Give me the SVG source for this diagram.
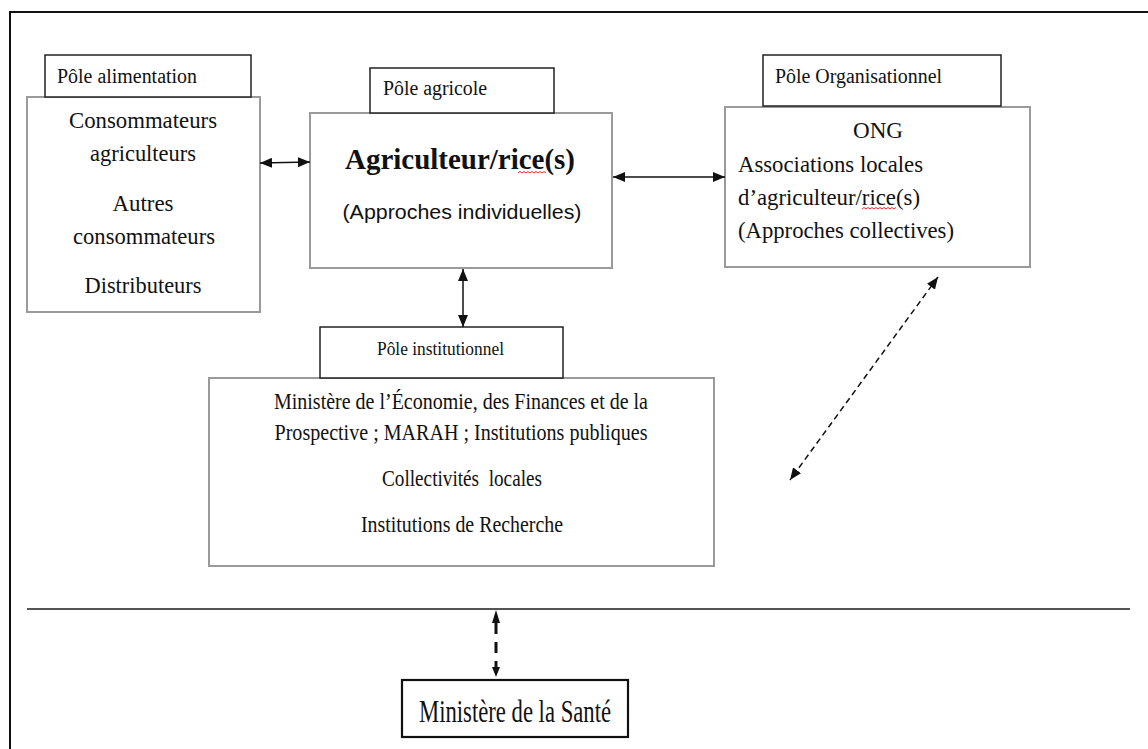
<svg xmlns="http://www.w3.org/2000/svg" width="1148" height="749" viewBox="0 0 1148 749">
<style>
.main{fill:#fff;stroke:#9a9a9a;stroke-width:2}
.lab{fill:#fff;stroke:#222;stroke-width:1.5}
.t{font-family:"Liberation Serif","Times New Roman",serif;fill:#111}
.s{font-family:"Liberation Sans",Arial,sans-serif;fill:#111}
.c{text-anchor:middle}
.conn{stroke:#111;stroke-width:1.5;fill:none}
.sq{stroke:#e03030;stroke-width:1;fill:none}
</style>
<defs>
<marker id="ah" viewBox="0 0 12 10" refX="12" refY="5" markerWidth="12" markerHeight="10" markerUnits="userSpaceOnUse" orient="auto-start-reverse">
<path d="M0,0 L12,5 L0,10 z" fill="#111"/>
</marker>
</defs>
<rect width="1148" height="749" fill="#fff"/>
<g id="frame">
<path d="M10,749 L10,12 L1148,12" fill="none" stroke="#111" stroke-width="2"/>
<line x1="27" y1="609" x2="1130" y2="609" stroke="#555" stroke-width="2"/>
</g>
<g id="pole-alimentation">
<rect class="main" x="27" y="97" width="233" height="215"/>
<rect class="lab" x="45" y="55" width="206" height="42"/>
<text class="t" x="57" y="83" font-size="20" textLength="140" lengthAdjust="spacingAndGlyphs">Pôle alimentation</text>
<text class="t c" x="143" y="128" font-size="24" textLength="148" lengthAdjust="spacingAndGlyphs">Consommateurs</text>
<text class="t c" x="143" y="161" font-size="24" textLength="106" lengthAdjust="spacingAndGlyphs">agriculteurs</text>
<text class="t c" x="143" y="211" font-size="24" textLength="61" lengthAdjust="spacingAndGlyphs">Autres</text>
<text class="t c" x="144" y="244" font-size="24" textLength="142" lengthAdjust="spacingAndGlyphs">consommateurs</text>
<text class="t c" x="143" y="293" font-size="24" textLength="117" lengthAdjust="spacingAndGlyphs">Distributeurs</text>
</g>
<g id="pole-agricole">
<rect class="main" x="310" y="113" width="302" height="155"/>
<rect class="lab" x="370" y="68" width="184" height="45"/>
<text class="t" x="383" y="95" font-size="20" textLength="104" lengthAdjust="spacingAndGlyphs">Pôle agricole</text>
<text class="t c" x="460" y="169" font-size="30" font-weight="bold" textLength="230" lengthAdjust="spacingAndGlyphs">Agriculteur/rice(s)</text>
<path class="sq" d="M518,173 l2,-1.5 l2,1.5 l2,-1.5 l2,1.5 l2,-1.5 l2,1.5 l2,-1.5 l2,1.5 l2,-1.5 l2,1.5 l2,-1.5 l2,1.5 l2,-1.5 l2,1.5"/>
<text class="s c" x="462" y="219" font-size="21" textLength="239" lengthAdjust="spacingAndGlyphs">(Approches individuelles)</text>
</g>
<g id="pole-organisationnel">
<rect class="main" x="725" y="107" width="305" height="160"/>
<rect class="lab" x="763" y="55" width="238" height="51"/>
<text class="t" x="775" y="83" font-size="20" textLength="167" lengthAdjust="spacingAndGlyphs">Pôle Organisationnel</text>
<text class="t c" x="878" y="138" font-size="24" textLength="50" lengthAdjust="spacingAndGlyphs">ONG</text>
<text class="t" x="738" y="172" font-size="24" textLength="185" lengthAdjust="spacingAndGlyphs">Associations locales</text>
<text class="t" x="738" y="205" font-size="24" textLength="182" lengthAdjust="spacingAndGlyphs">d’agriculteur/rice(s)</text>
<path class="sq" d="M862,209 l2,-1.5 l2,1.5 l2,-1.5 l2,1.5 l2,-1.5 l2,1.5 l2,-1.5 l2,1.5 l2,-1.5 l2,1.5 l2,-1.5 l2,1.5 l2,-1.5 l2,1.5 l2,-1.5 l2,1.5 l2,-1.5"/>
<text class="t" x="738" y="238" font-size="24" textLength="216" lengthAdjust="spacingAndGlyphs">(Approches collectives)</text>
</g>
<g id="pole-institutionnel">
<rect class="main" x="209" y="378" width="505" height="188"/>
<rect class="lab" x="320" y="327" width="243" height="51"/>
<text class="t" x="377" y="355" font-size="18" textLength="127" lengthAdjust="spacingAndGlyphs">Pôle institutionnel</text>
<text class="t c" x="461" y="409" font-size="23" textLength="374" lengthAdjust="spacingAndGlyphs">Ministère de l’Économie, des Finances et de la</text>
<text class="t c" x="461" y="440" font-size="23" textLength="373" lengthAdjust="spacingAndGlyphs">Prospective ; MARAH ; Institutions publiques</text>
<text class="t c" x="462" y="486" font-size="23" textLength="160" lengthAdjust="spacingAndGlyphs" xml:space="preserve">Collectivités  locales</text>
<text class="t c" x="462" y="532" font-size="23" textLength="202" lengthAdjust="spacingAndGlyphs">Institutions de Recherche</text>
</g>
<g id="ministere-sante">
<rect x="402" y="680" width="226" height="57" fill="#fff" stroke="#111" stroke-width="2.2"/>
<text class="t c" x="515" y="722" font-size="31" textLength="192" lengthAdjust="spacingAndGlyphs">Ministère de la Santé</text>
</g>
<g id="connectors">
<line class="conn" x1="260" y1="163" x2="310" y2="162" marker-start="url(#ah)" marker-end="url(#ah)"/>
<line class="conn" x1="613" y1="177" x2="725" y2="177" marker-start="url(#ah)" marker-end="url(#ah)"/>
<line class="conn" x1="463" y1="269" x2="463" y2="327" marker-start="url(#ah)" marker-end="url(#ah)"/>
<line class="conn" x1="938" y1="277" x2="790" y2="480" stroke-width="1.3" stroke-dasharray="6 4" marker-start="url(#ah)" marker-end="url(#ah)"/>
<line x1="496" y1="623" x2="496" y2="667" stroke="#111" stroke-width="3" stroke-dasharray="11 8"/>
<path d="M496,610 L500,623 L492,623 z" fill="#111"/>
<path d="M496,677 L500,667 L492,667 z" fill="#111"/>
</g>
</svg>
